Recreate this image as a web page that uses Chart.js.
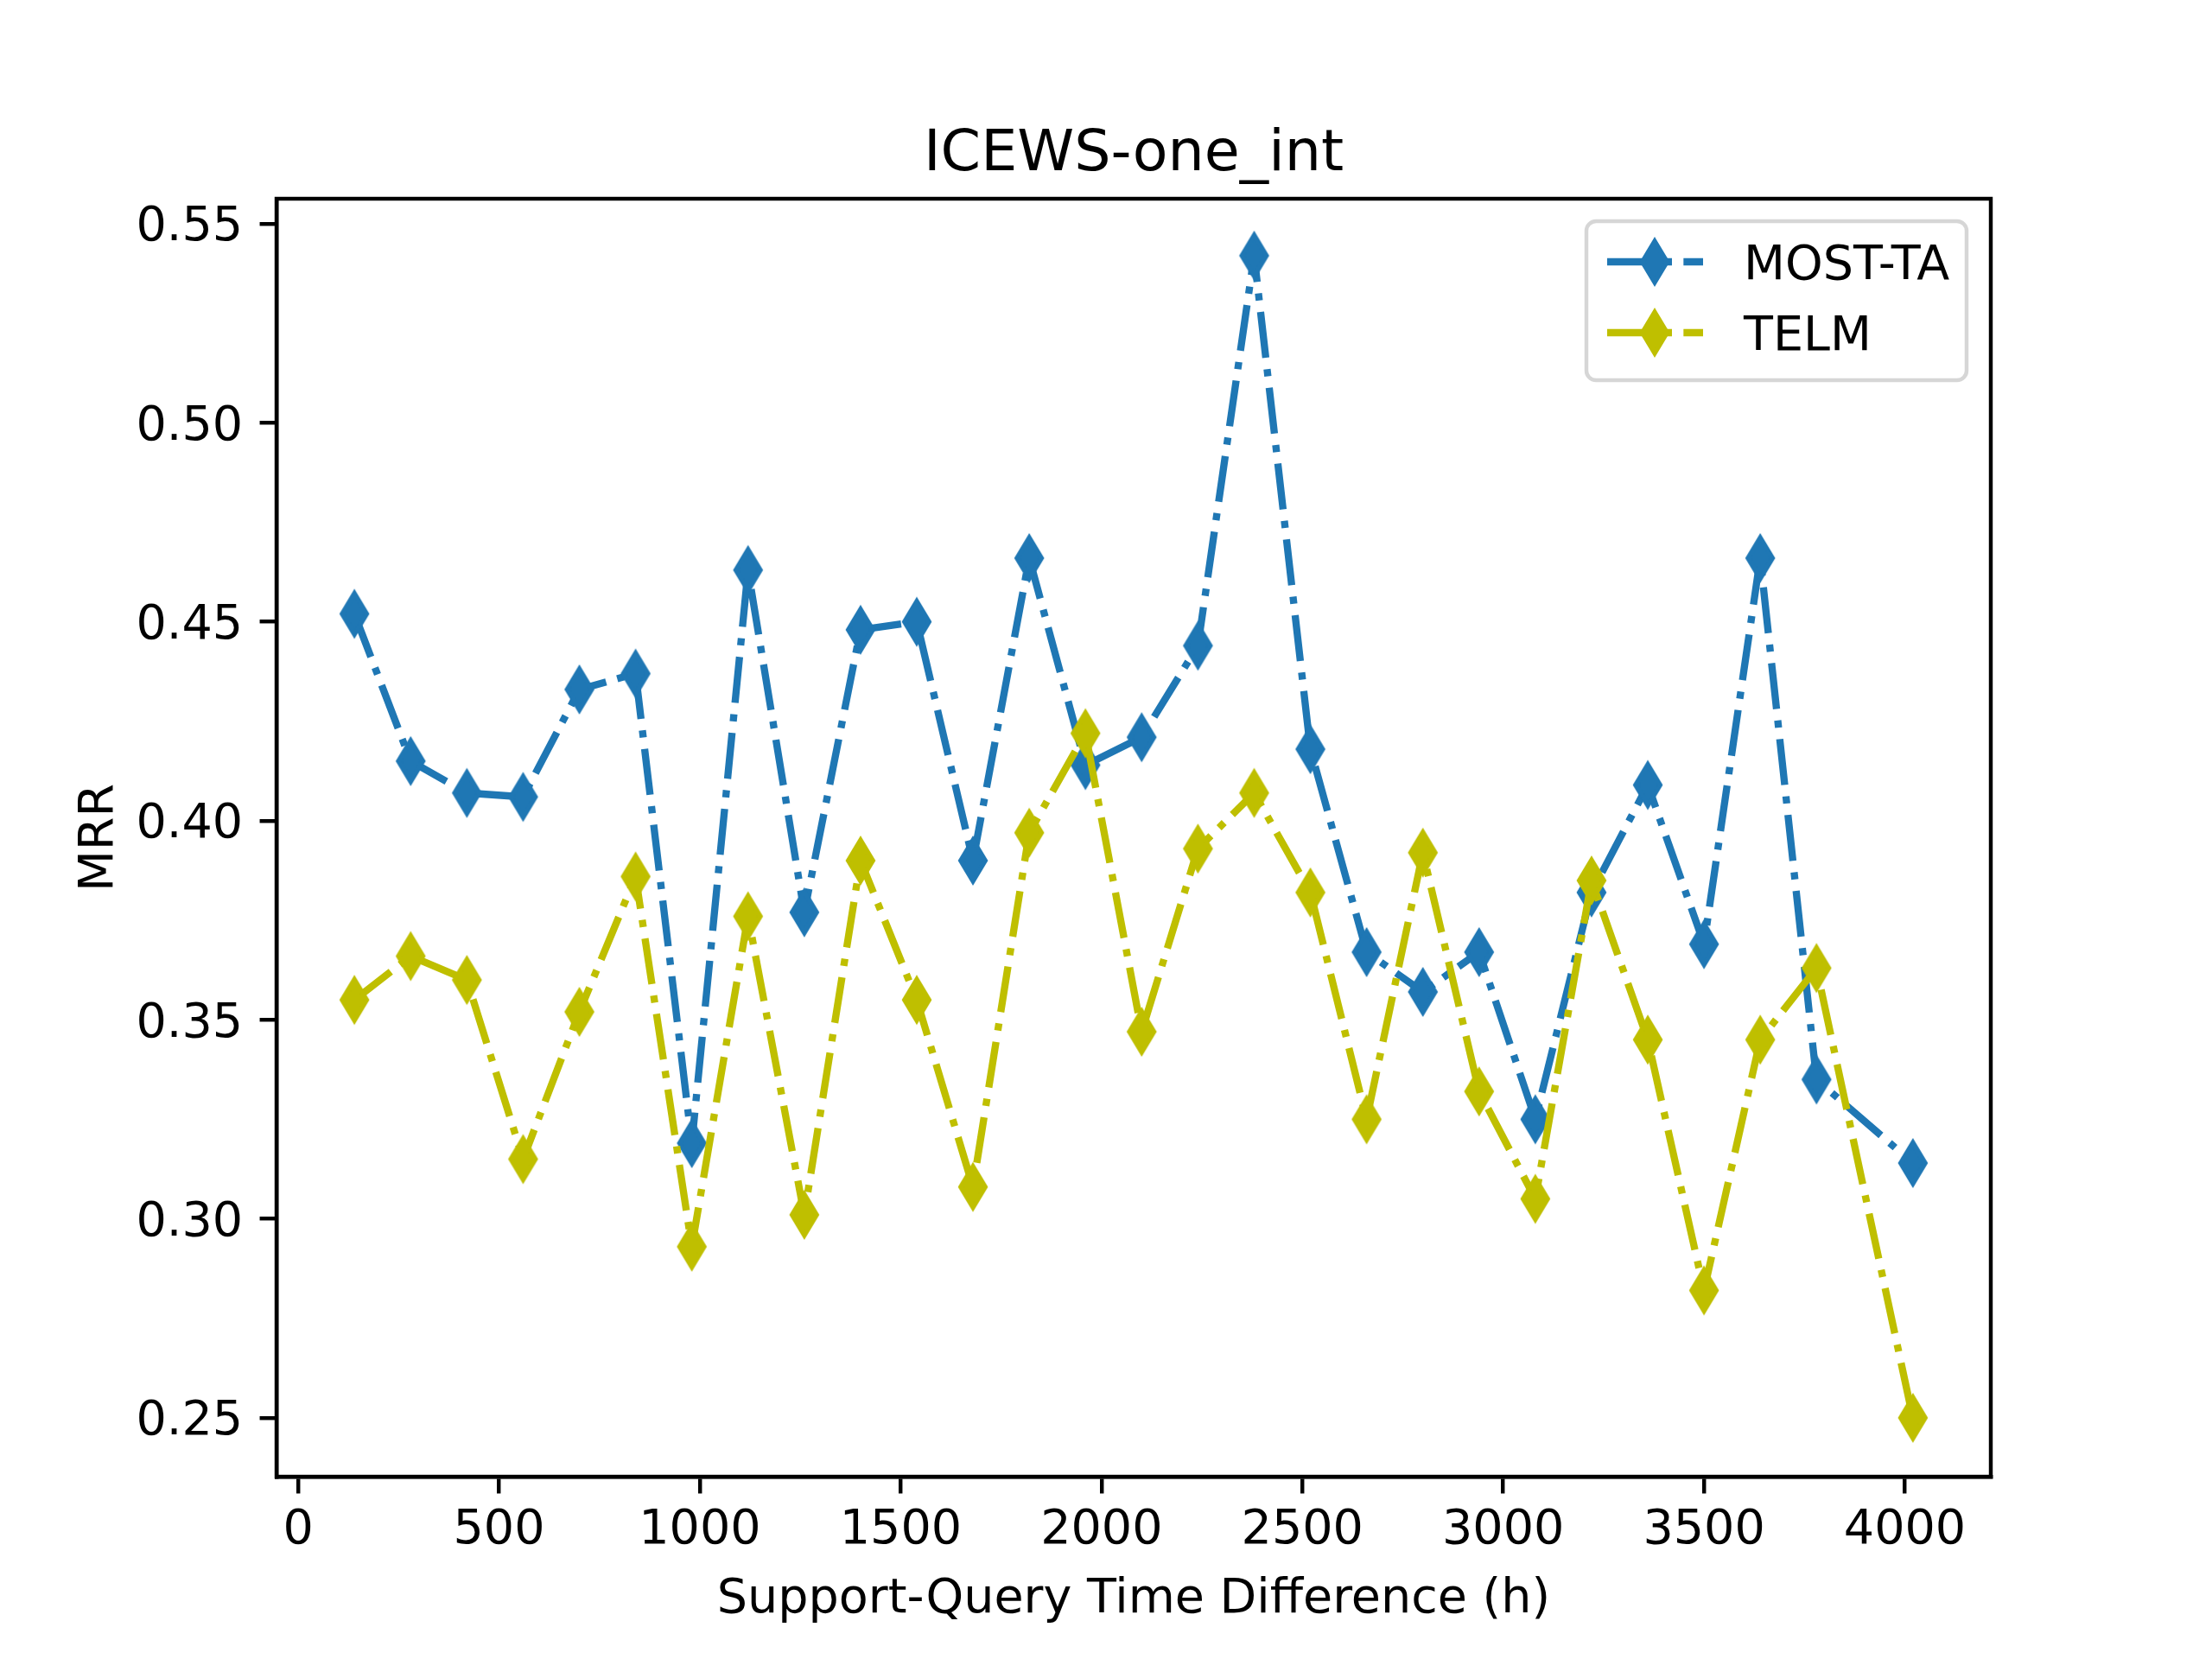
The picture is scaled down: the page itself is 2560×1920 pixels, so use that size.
<!DOCTYPE html>
<html>
<head>
<meta charset="utf-8">
<title>ICEWS-one_int</title>
<script src="https://cdn.jsdelivr.net/npm/chart.js@4.4.0/dist/chart.umd.min.js"></script>
<style>
  html, body { margin: 0; padding: 0; background: #fff; }
  #mrrChart { display: block; }
</style>
</head>
<body>
<canvas id="mrrChart" width="2560" height="1920" style="width:2560px;height:1920px"></canvas>
<script>
// values
const timeDiffs = [140, 280, 420, 560, 700, 840, 980, 1120, 1260, 1400, 1540, 1680, 1820, 1960,
                   2100, 2240, 2380, 2520, 2660, 2800, 2940, 3080, 3220, 3360, 3500, 3640, 3780, 4020];
const mostTa = [0.452, 0.415, 0.407, 0.406, 0.433, 0.437, 0.319, 0.463, 0.377, 0.448, 0.450, 0.390, 0.466, 0.414,
                0.421, 0.444, 0.542, 0.418, 0.367, 0.357, 0.367, 0.325, 0.382, 0.409, 0.369, 0.466, 0.335, 0.314];
const telm = [0.355, 0.366, 0.360, 0.315, 0.352, 0.386, 0.293, 0.376, 0.301, 0.390, 0.355, 0.308, 0.397, 0.422,
              0.347, 0.393, 0.407, 0.382, 0.325, 0.392, 0.332, 0.305, 0.385, 0.345, 0.282, 0.345, 0.363, 0.250];
const xTicks = [0, 500, 1000, 1500, 2000, 2500, 3000, 3500, 4000];
const yTicks = [0.25, 0.30, 0.35, 0.40, 0.45, 0.50, 0.55];

const PT = 400 / 72;              // figure was saved at 400 dpi
const FONT = '"DejaVu Sans"';
const dashDot = [6.4 * 1.5 * PT, 1.6 * 1.5 * PT, 1 * 1.5 * PT, 1.6 * 1.5 * PT];

// thin diamond marker ('d'), drawn once per colour
function thinDiamond(color) {
    const c = document.createElement('canvas');
    c.width = 44;
    c.height = 66;
    const g = c.getContext('2d');
    const h = 6 * PT * Math.SQRT2 / 2;
    const w = h * 0.6;
    g.translate(22, 33);
    g.beginPath();
    g.moveTo(0, -h);
    g.lineTo(w, 0);
    g.lineTo(0, h);
    g.lineTo(-w, 0);
    g.closePath();
    g.fillStyle = color;
    g.strokeStyle = color;
    g.lineWidth = PT;
    g.lineJoin = 'miter';
    g.fill();
    g.stroke();
    return c;
}

const blue = '#1f77b4';
const olive = '#bfbf00';

function toPoints(ys) {
    return timeDiffs.map((x, i) => ({ x: x, y: ys[i] }));
}

// top and right spines
const framePlugin = {
    id: 'frame',
    afterDatasetsDraw(chart) {
        const { ctx, chartArea: a } = chart;
        ctx.save();
        ctx.strokeStyle = '#000';
        ctx.lineWidth = 0.8 * PT;
        ctx.strokeRect(a.left, a.top, a.right - a.left, a.bottom - a.top);
        ctx.restore();
    }
};

// matplotlib style legend, upper right inside the axes
const legendPlugin = {
    id: 'mplLegend',
    afterDraw(chart) {
        const { ctx } = chart;
        const box = { x: 1836, y: 256, w: 440, h: 184 };
        ctx.save();
        ctx.beginPath();
        ctx.roundRect(box.x, box.y, box.w, box.h, 0.2 * 10 * PT);
        ctx.fillStyle = 'rgba(255,255,255,0.8)';
        ctx.fill();
        ctx.strokeStyle = 'rgba(204,204,204,0.8)';
        ctx.lineWidth = 0.8 * PT;
        ctx.stroke();

        const rows = [303, 385];
        chart.data.datasets.forEach((ds, i) => {
            const y = rows[i];
            ctx.beginPath();
            ctx.setLineDash(ds.borderDash);
            ctx.lineCap = 'butt';
            ctx.strokeStyle = ds.borderColor;
            ctx.lineWidth = ds.borderWidth;
            ctx.moveTo(1860, y);
            ctx.lineTo(1971, y);
            ctx.stroke();
            ctx.setLineDash([]);
            const m = ds.pointStyle;
            ctx.drawImage(m, 1915 - m.width / 2, y - m.height / 2);
            ctx.fillStyle = '#000';
            ctx.font = (10 * PT) + 'px ' + FONT;
            ctx.textAlign = 'left';
            ctx.textBaseline = 'alphabetic';
            ctx.fillText(ds.label, 2018, y + 20);
        });
        ctx.restore();
    }
};

const ctx = document.getElementById('mrrChart').getContext('2d');

const mrrChart = new Chart(ctx, {
    type: 'line',
    data: {
        datasets: [{
            label: 'MOST-TA',
            data: toPoints(mostTa),
            borderColor: blue,
            backgroundColor: blue,
            borderWidth: 1.5 * PT,
            borderDash: dashDot,
            borderCapStyle: 'butt',
            borderJoinStyle: 'round',
            pointStyle: thinDiamond(blue),
            pointRadius: 15,
            order: 1
        }, {
            label: 'TELM',
            data: toPoints(telm),
            borderColor: olive,
            backgroundColor: olive,
            borderWidth: 1.5 * PT,
            borderDash: dashDot,
            borderCapStyle: 'butt',
            borderJoinStyle: 'round',
            pointStyle: thinDiamond(olive),
            pointRadius: 15,
            order: 0
        }]
    },
    options: {
        responsive: false,
        animation: false,
        devicePixelRatio: 1,
        layout: {
            padding: { top: 0, right: 0, bottom: 0, left: 64 }
        },
        elements: {
            line: { tension: 0, fill: false }
        },
        plugins: {
            legend: { display: false },
            tooltip: { enabled: false },
            title: {
                display: true,
                text: 'ICEWS-one_int',
                color: '#000',
                font: { family: FONT, size: 12 * PT, weight: 'normal' },
                padding: { top: 140, bottom: 10 }
            }
        },
        scales: {
            x: {
                type: 'linear',
                min: -54,
                max: 4214,
                afterBuildTicks: (scale) => { scale.ticks = xTicks.map(v => ({ value: v })); },
                afterFit: (scale) => { scale.height = 211; },
                grid: {
                    drawOnChartArea: false,
                    drawTicks: true,
                    tickLength: 3.5 * PT,
                    color: '#000',
                    lineWidth: 0.8 * PT
                },
                border: { display: true, color: '#000', width: 0.8 * PT },
                ticks: {
                    color: '#000',
                    font: { family: FONT, size: 10 * PT },
                    padding: 10,
                    maxRotation: 0,
                    autoSkip: false,
                    callback: (v) => String(v)
                },
                title: {
                    display: true,
                    text: 'Support-Query Time Difference (h)',
                    color: '#000',
                    font: { family: FONT, size: 10 * PT },
                    padding: { top: 0, bottom: 35 }
                }
            },
            y: {
                type: 'linear',
                min: 0.2352,
                max: 0.5563,
                afterBuildTicks: (scale) => { scale.ticks = yTicks.map(v => ({ value: v })); },
                afterFit: (scale) => { scale.width = 256; },
                grid: {
                    drawOnChartArea: false,
                    drawTicks: true,
                    tickLength: 3.5 * PT,
                    color: '#000',
                    lineWidth: 0.8 * PT
                },
                border: { display: true, color: '#000', width: 0.8 * PT },
                ticks: {
                    color: '#000',
                    font: { family: FONT, size: 10 * PT },
                    padding: 3.5 * PT,
                    labelOffset: 5,
                    autoSkip: false,
                    callback: (v) => v.toFixed(2)
                },
                title: {
                    display: true,
                    text: 'MRR',
                    color: '#000',
                    font: { family: FONT, size: 10 * PT },
                    padding: { top: 18, bottom: 0 }
                }
            },
            // empty right-hand box so the figure margin matches and the title centres over the axes
            yRight: {
                type: 'linear',
                position: 'right',
                display: true,
                afterFit: (scale) => { scale.width = 256; },
                grid: { display: false },
                border: { display: false },
                ticks: { display: false }
            }
        }
    },
    plugins: [framePlugin, legendPlugin]
});
</script>
</body>
</html>
